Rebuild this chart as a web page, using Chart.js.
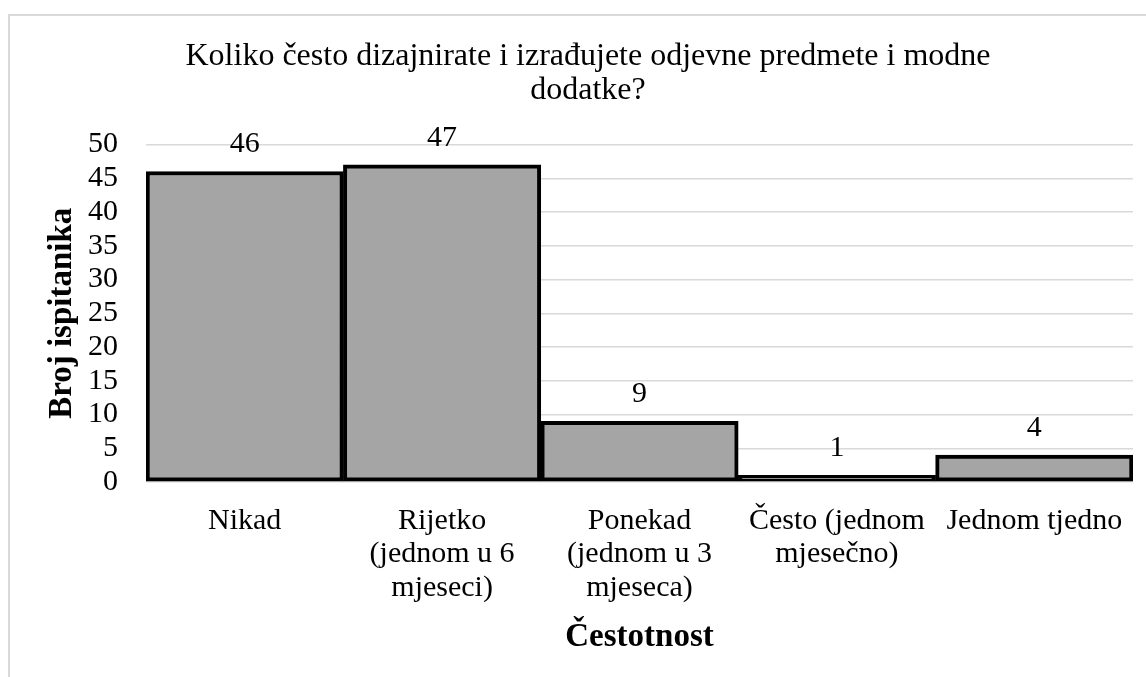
<!DOCTYPE html>
<html>
<head>
<meta charset="utf-8">
<script src="https://cdn.jsdelivr.net/npm/chart.js@4/dist/chart.umd.min.js"></script>
<style>
  html, body { margin: 0; padding: 0; background: #fff; }
  #frame { position: absolute; left: 8px; top: 14px; width: 1200px; height: 720px; border: 2px solid #d9d9d9; }
  #wrap { position: absolute; left: 0; top: 0; width: 1146px; height: 677px; }
</style>
</head>
<body>
<div id="frame"></div>
<div id="wrap"><canvas id="myChart" width="1146" height="677"></canvas></div>
<script>
// podaci
const categories = [
  ["Nikad"],
  ["Rijetko", "(jednom u 6", "mjeseci)"],
  ["Ponekad", "(jednom u 3", "mjeseca)"],
  ["Često (jednom", "mjesečno)"],
  ["Jednom tjedno"],
];
const values = [46, 47, 9, 1, 4];
const yTicks = [0, 5, 10, 15, 20, 25, 30, 35, 40, 45, 50];
const titleLines = ["Koliko često dizajnirate i izrađujete odjevne predmete i modne", "dodatke?"];

const serif = "'Liberation Serif', 'Times New Roman', serif";

// oznake vrijednosti iznad stupaca
const valueLabels = {
  id: "valueLabels",
  afterDatasetsDraw(chart) {
    const ctx = chart.ctx;
    const meta = chart.getDatasetMeta(0);
    ctx.save();
    ctx.font = "30px " + serif;
    ctx.fillStyle = "#000";
    ctx.textAlign = "center";
    ctx.textBaseline = "middle";
    meta.data.forEach((bar, i) => {
      ctx.fillText(String(values[i]), bar.x, bar.y - 27);
    });
    ctx.restore();
  },
};

const ctx = document.getElementById("myChart").getContext("2d");
const myChart = new Chart(ctx, {
  type: "bar",
  data: {
    labels: categories,
    datasets: [
      {
        data: values,
        backgroundColor: "#a5a5a5",
        borderColor: "#000",
        borderWidth: 4,
        borderSkipped: false,
        barPercentage: 1,
        categoryPercentage: 1,
      },
    ],
  },
  options: {
    responsive: false,
    animation: false,
    layout: { padding: { left: 43, right: 13, top: 40, bottom: 0 } },
    plugins: {
      legend: { display: false },
      tooltip: { enabled: false },
      title: {
        display: true,
        text: titleLines,
        color: "#000",
        font: { family: serif, size: 32, weight: "normal", lineHeight: 1.0625 },
        padding: { top: 0, bottom: 36.5 },
      },
    },
    scales: {
      x: {
        afterFit(axis) { axis.height = 195; },
        grid: { display: false, drawTicks: false },
        border: { display: false },
        ticks: {
          color: "#000",
          font: { family: serif, size: 30, lineHeight: 1.12 },
          padding: 22,
          maxRotation: 0,
          autoSkip: false,
        },
        title: {
          display: true,
          text: "Čestotnost",
          color: "#000",
          font: { family: serif, size: 33, weight: "bold", lineHeight: 1.2 },
          padding: { top: 0, bottom: 20 },
        },
      },
      y: {
        min: 0,
        max: 50,
        afterFit(axis) { axis.width = 103; },
        afterBuildTicks(axis) {
          axis.ticks = yTicks.map((v) => ({ value: v }));
        },
        grid: { color: "#d9d9d9", lineWidth: 1.5, drawTicks: false },
        border: { display: false },
        ticks: {
          color: "#000",
          font: { family: serif, size: 30, lineHeight: 1.12 },
          padding: 28,
          autoSkip: false,
        },
        title: {
          display: true,
          text: "Broj ispitanika",
          color: "#000",
          font: { family: serif, size: 33, weight: "bold", lineHeight: 1.2 },
          padding: { top: 0, bottom: 7 },
        },
      },
    },
  },
  plugins: [valueLabels],
});
</script>
</body>
</html>
